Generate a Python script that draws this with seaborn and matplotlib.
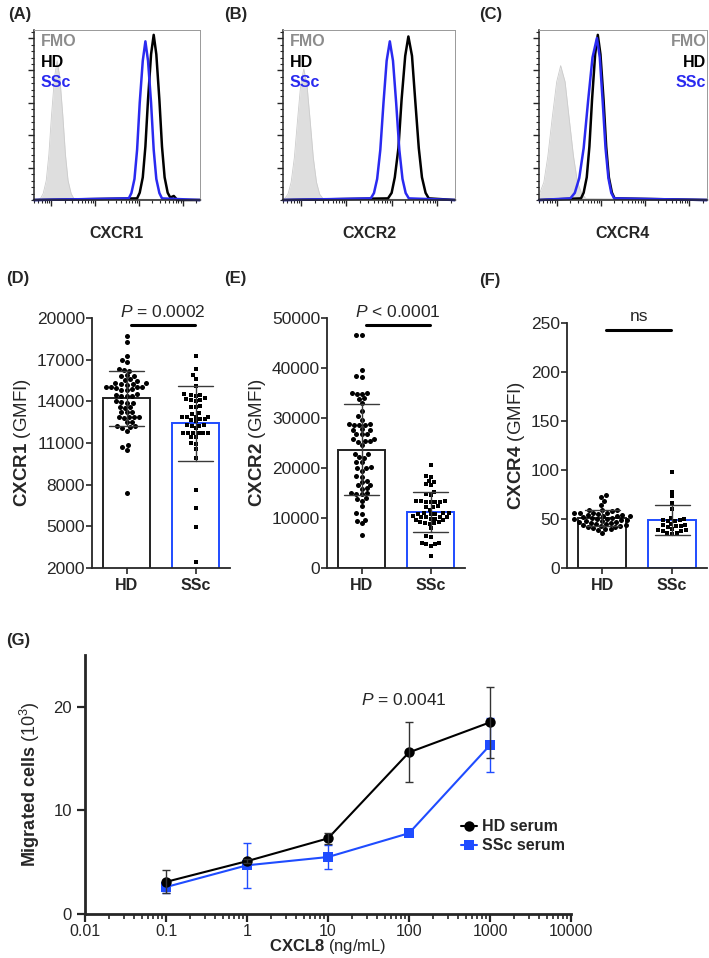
import numpy as np
import pandas as pd
import seaborn as sns
import matplotlib.pyplot as plt
from matplotlib.ticker import AutoMinorLocator, FixedLocator, NullFormatter


#### Data ####

# Flow cytometry histograms (x = log10 fluorescence, y = % of mode)
cxcr1_fmo_x = [0.6, 0.75, 0.81, 0.88, 0.94, 1.00, 1.07, 1.13, 1.19, 1.26, 1.32, 1.38, 1.45, 1.51, 4.4]
cxcr1_fmo_y = [0, 1, 4, 12, 28, 52, 76, 86, 76, 52, 28, 12, 4, 1, 0]
cxcr1_hd_x = [0.6, 2.96, 3.02, 3.09, 3.15, 3.21, 3.28, 3.34, 3.40, 3.47, 3.53, 3.59, 3.66, 3.72, 3.80, 3.88, 4.4]
cxcr1_hd_y = [0, 1, 4.5, 14, 33, 62, 90, 102, 90, 62, 33, 14, 4.5, 1.5, 2.5, 0, 0]
cxcr1_ssc_x = [0.6, 2.77, 2.83, 2.90, 2.96, 3.02, 3.09, 3.15, 3.21, 3.28, 3.34, 3.40, 3.47, 3.53, 4.4]
cxcr1_ssc_y = [0, 1, 4.3, 13, 31, 60, 86, 98, 86, 60, 31, 13, 4.3, 1, 0]

cxcr2_fmo_x = [0.6, 0.64, 0.71, 0.78, 0.85, 0.92, 0.99, 1.06, 1.13, 1.20, 1.27, 1.34, 1.41, 1.48, 4.4]
cxcr2_fmo_y = [0, 1, 3.6, 11, 26, 49, 71, 81, 71, 49, 26, 11, 3.6, 1, 0]
cxcr2_hd_x = [0.6, 2.92, 3.00, 3.07, 3.15, 3.22, 3.30, 3.37, 3.45, 3.52, 3.60, 3.67, 3.75, 3.82, 4.4]
cxcr2_hd_y = [0, 1, 4.4, 14, 32, 62, 89, 101, 89, 62, 32, 14, 4.4, 1, 0]
cxcr2_ssc_x = [0.6, 2.54, 2.61, 2.68, 2.75, 2.82, 2.89, 2.96, 3.03, 3.10, 3.17, 3.24, 3.31, 3.38, 4.4]
cxcr2_ssc_y = [0, 1, 4.3, 13, 31, 60, 86, 98, 86, 60, 31, 13, 4.3, 1, 0]

cxcr4_fmo_x = [0.6, 0.61, 0.71, 0.80, 0.90, 1.00, 1.09, 1.19, 1.28, 1.38, 1.47, 1.57, 1.66, 4.4]
cxcr4_fmo_y = [0, 3.7, 11, 27, 51, 73, 83, 73, 51, 27, 11, 3.7, 0.9, 0]
cxcr4_hd_x = [0.6, 1.55, 1.61, 1.68, 1.74, 1.80, 1.87, 1.93, 1.99, 2.06, 2.12, 2.18, 2.25, 2.31, 4.4]
cxcr4_hd_y = [0, 1, 4.5, 14, 33, 62, 90, 102, 90, 62, 33, 14, 4.5, 1, 0]
cxcr4_ssc_x = [0.6, 1.31, 1.41, 1.51, 1.61, 1.71, 1.81, 1.91, 1.975, 2.04, 2.105, 2.17, 2.235, 2.30, 4.4]
cxcr4_ssc_y = [0, 1, 4.4, 13.5, 32, 61, 88, 100, 88, 61, 32, 13.5, 4.4, 1, 0]

# GMFI per donor
groups = ['HD', 'SSc']
cxcr1_hd = [18700, 18300, 17300, 17000, 16800, 16300, 16250, 16200, 15900, 15850,
            15800, 15600, 15550, 15500, 15300, 15300, 15250, 15250, 15200, 15050,
            15050, 15000, 15000, 14950, 14900, 14800, 14800, 14500, 14450, 14400,
            14400, 14350, 14000, 13950, 13900, 13900, 13600, 13600, 13550, 13250,
            13200, 13200, 12900, 12900, 12850, 12850, 12800, 12500, 12500, 12200,
            12200, 12150, 12100, 11900, 10850, 10700, 10500, 7400]
cxcr1_ssc = [17300, 16300, 15900, 15600, 15100, 14500, 14450, 14450, 14400, 14250,
             14200, 14100, 14100, 14050, 13650, 13600, 13600, 13150, 13100, 12900,
             12900, 12850, 12850, 12700, 12700, 12650, 12550, 12300, 12300, 12250,
             12250, 12050, 11750, 11750, 11750, 11700, 11700, 11700, 11450, 11450,
             11000, 10950, 10550, 9950, 7650, 6350, 4950, 2450]
cxcr2_hd = [46600, 46500, 39500, 38400, 38200, 35000, 34900, 34800, 34700, 33900,
            33800, 32900, 31300, 30300, 29600, 28700, 28700, 28600, 28600, 28500,
            27700, 27600, 27500, 26800, 26800, 26700, 25800, 25700, 25300, 25300,
            25200, 24500, 22800, 22700, 22100, 22000, 21200, 21100, 20100, 20000,
            19900, 19400, 18400, 18300, 17400, 17300, 16700, 16600, 16000, 15900,
            15100, 15000, 14900, 14800, 14000, 13900, 13400, 12400, 11000, 10900,
            9700, 9500, 9000, 6700]
cxcr2_ssc = [20500, 18400, 18300, 17500, 17300, 16800, 16600, 15200, 14800, 14600,
             13500, 13400, 13400, 13300, 13300, 13300, 13200, 12400, 12300, 12300,
             11700, 11100, 11000, 11000, 10900, 10900, 10800, 10400, 10300, 10300,
             10200, 10200, 9900, 9800, 9700, 9600, 9300, 9200, 9100, 9000,
             8900, 8000, 6400, 6200, 5000, 5000, 4900, 4900, 4400, 2400]
cxcr4_hd = [74, 72, 68, 64, 59, 59, 59, 58, 56, 56, 56, 56, 55, 54, 54, 53, 53, 53,
            52, 51, 51, 50, 50, 50, 49, 49, 48, 48, 47, 47, 46, 46, 45, 45, 44, 44,
            43, 43, 42, 42, 41, 40, 40, 39, 36]
cxcr4_ssc = [98, 78, 73, 66, 60, 51, 50, 49, 49, 48, 48, 45, 44, 44, 43, 43, 42,
             40, 39, 39, 38, 38, 36, 36, 35]

# Migration assay (mean and error, x10^3 cells)
cxcl8_conc = [0.1, 1, 10, 100, 1000]
hd_serum_mean = [3.1, 5.1, 7.3, 15.6, 18.5]
hd_serum_err = [1.1, 0.2, 0.5, 2.9, 3.4]
ssc_serum_mean = [2.6, 4.7, 5.5, 7.8, 16.3]
ssc_serum_err = [0.6, 2.2, 1.2, 0.2, 2.6]


#### Style ####

sns.set_style('ticks')
plt.rcParams['font.family'] = ['Liberation Sans', 'DejaVu Sans']
plt.rcParams['mathtext.fontset'] = 'custom'
plt.rcParams['mathtext.rm'] = 'Liberation Sans'
plt.rcParams['mathtext.it'] = 'Liberation Sans:italic'
plt.rcParams['mathtext.bf'] = 'Liberation Sans:bold'

BLUE = '#1f4cff'
BLUE_HIST = '#2a2af0'

W, H = 709, 958
fig = plt.figure(figsize=(W / 100, H / 100), dpi=100)


def box(x0, y0, x1, y1):
    return [x0 / W, 1 - y1 / H, (x1 - x0) / W, (y1 - y0) / H]


#### Histograms (A-C) ####

def histogram(ax, fmo, hd, ssc, xlabel, right=False):
    ax.fill_between(fmo[0], fmo[1], color='#dedede', lw=0)
    ax.plot(fmo[0], fmo[1], color='#cccccc', lw=0.6)
    ax.plot(hd[0], hd[1], color='black', lw=1.8, clip_on=False)
    ax.plot(ssc[0], ssc[1], color=BLUE_HIST, lw=1.8, clip_on=False)
    ax.set_xlim(0.6, 4.4)
    ax.set_ylim(0, 105)
    ax.xaxis.set_major_locator(FixedLocator([1, 2, 3, 4]))
    minors = [d + np.log10(k) for d in range(5) for k in range(2, 10)]
    ax.xaxis.set_minor_locator(FixedLocator([m for m in minors if 0.6 <= m <= 4.4]))
    ax.set_yticks([20, 40, 60, 80, 100])
    ax.yaxis.set_minor_locator(AutoMinorLocator(5))
    ax.xaxis.set_major_formatter(NullFormatter())
    ax.yaxis.set_major_formatter(NullFormatter())
    ax.tick_params(which='major', length=4, width=1)
    ax.tick_params(which='minor', length=2, width=0.8)
    for side in ['top', 'right']:
        ax.spines[side].set_color('#999999')
        ax.spines[side].set_linewidth(0.7)
    for side in ['left', 'bottom']:
        ax.spines[side].set_linewidth(1.1)
    ax.set_xlabel(xlabel, fontsize=11.5, fontweight='bold', labelpad=11)
    x, ha = (0.995, 'right') if right else (0.04, 'left')
    for txt, col, y in [('FMO', '#8c8c8c', 0.93), ('HD', 'black', 0.81), ('SSc', BLUE_HIST, 0.69)]:
        ax.text(x, y, txt, color=col, fontsize=11.5, fontweight='bold',
                ha=ha, va='center', transform=ax.transAxes)


histogram(fig.add_axes(box(34, 30, 200, 200)),
          (cxcr1_fmo_x, cxcr1_fmo_y), (cxcr1_hd_x, cxcr1_hd_y), (cxcr1_ssc_x, cxcr1_ssc_y), 'CXCR1')
histogram(fig.add_axes(box(283, 30, 455, 200)),
          (cxcr2_fmo_x, cxcr2_fmo_y), (cxcr2_hd_x, cxcr2_hd_y), (cxcr2_ssc_x, cxcr2_ssc_y), 'CXCR2')
histogram(fig.add_axes(box(539, 30, 707, 200)),
          (cxcr4_fmo_x, cxcr4_fmo_y), (cxcr4_hd_x, cxcr4_hd_y), (cxcr4_ssc_x, cxcr4_ssc_y), 'CXCR4',
          right=True)


#### Bar + dot plots (D-F) ####

def bar_panel(ax, hd, ssc, ylabel, ylim, yticks, ptext):
    df = pd.DataFrame({'Group': ['HD'] * len(hd) + ['SSc'] * len(ssc), 'Value': hd + ssc})
    sns.barplot(data=df, x='Group', y='Value', order=groups, color='white', width=0.68,
                errorbar='sd', capsize=0.5,
                err_kws={'color': '#3a3a3a', 'linewidth': 1.0, 'zorder': 5}, ax=ax)
    for patch, ec in zip(ax.patches, ['#222222', BLUE]):
        patch.set_facecolor('white')
        patch.set_edgecolor(ec)
        patch.set_linewidth(1.4)
    sns.swarmplot(data=df[df.Group == 'HD'], x='Group', y='Value', order=groups,
                  color='black', marker='o', size=3.6, ax=ax, zorder=3)
    sns.swarmplot(data=df[df.Group == 'SSc'], x='Group', y='Value', order=groups,
                  color='black', marker='s', size=3.3, ax=ax, zorder=3)
    ax.set_xlim(-0.5, 1.5)
    ax.set_ylim(*ylim)
    ax.set_yticks(yticks)
    ax.set_xlabel('')
    ax.set_ylabel(ylabel, fontsize=13.5, labelpad=3)
    sns.despine(ax=ax)
    for side in ['left', 'bottom']:
        ax.spines[side].set_linewidth(1.3)
    ax.tick_params(axis='y', labelsize=12.5, length=4, width=1.2, pad=1)
    ax.tick_params(axis='x', labelsize=11.5, length=4, width=1.2, pad=3)
    for lab in ax.get_xticklabels():
        lab.set_fontweight('bold')
    # significance bar
    trans = ax.get_xaxis_transform()
    ax.plot([0.06, 0.99], [0.972, 0.972], color='black', lw=2.2, transform=trans, clip_on=False)
    ax.text(0.53, 1.025, ptext, ha='center', va='center', fontsize=12.5, transform=trans)


bar_panel(fig.add_axes(box(92, 318, 230, 568)), cxcr1_hd, cxcr1_ssc,
          r'$\mathbf{CXCR1}$ (GMFI)', (2000, 20000), range(2000, 20001, 3000), r'$P$ = 0.0002')
bar_panel(fig.add_axes(box(327, 318, 465, 568)), cxcr2_hd, cxcr2_ssc,
          r'$\mathbf{CXCR2}$ (GMFI)', (0, 50000), range(0, 50001, 10000), r'$P$ < 0.0001')
bar_panel(fig.add_axes(box(567, 323, 707, 568)), cxcr4_hd, cxcr4_ssc,
          r'$\mathbf{CXCR4}$ (GMFI)', (0, 250), range(0, 251, 50), 'ns')


#### Migration (G) ####

ax = fig.add_axes(box(85, 655, 571, 914))
sns.lineplot(x=cxcl8_conc, y=hd_serum_mean, color='black', marker='o', markersize=7.5,
             markeredgewidth=0, lw=1.5, label='HD serum', ax=ax, zorder=3)
sns.lineplot(x=cxcl8_conc, y=ssc_serum_mean, color=BLUE, marker='s', markersize=7,
             markeredgewidth=0, lw=1.5, label='SSc serum', ax=ax, zorder=2)
ax.errorbar(cxcl8_conc, hd_serum_mean, yerr=hd_serum_err, fmt='none', ecolor='#333333',
            elinewidth=1, capsize=3, zorder=3)
ax.errorbar(cxcl8_conc, ssc_serum_mean, yerr=ssc_serum_err, fmt='none', ecolor=BLUE,
            elinewidth=1, capsize=3, zorder=2)
ax.set_xscale('log')
ax.set_xlim(0.01, 10000)
ax.set_ylim(0, 25)
ax.set_yticks([0, 10, 20])
ax.set_xticks([0.01, 0.1, 1, 10, 100, 1000, 10000])
ax.set_xticklabels(['0.01', '0.1', '1', '10', '100', '1000', '10000'])
sns.despine(ax=ax)
for side in ['left', 'bottom']:
    ax.spines[side].set_linewidth(2)
ax.tick_params(which='major', length=6, width=1.6, labelsize=12)
ax.tick_params(which='minor', length=3.5, width=1.2)
ax.tick_params(axis='x', which='major', labelsize=11.5, pad=1)
ax.set_xlabel(r'$\mathbf{CXCL8}$ (ng/mL)', fontsize=12, labelpad=-1)
ax.set_ylabel(r'$\mathbf{Migrated\ cells}$ (10$^3$)', fontsize=13, labelpad=8)
ax.text(87, 20.7, r'$P$ = 0.0041', ha='center', va='center', fontsize=12.5)
ax.legend(loc='upper left', bbox_to_anchor=(0.76, 0.39), frameon=False,
          prop={'weight': 'bold', 'size': 11.5}, handlelength=1.0, handletextpad=0.3,
          labelspacing=0.25, borderaxespad=0)


#### Panel letters ####

for letter, x, y in [('(A)', 8, 14), ('(B)', 224, 14), ('(C)', 479, 14),
                     ('(D)', 6, 279), ('(E)', 224, 279), ('(F)', 479, 280), ('(G)', 6, 640)]:
    fig.text(x / W, 1 - y / H, letter, fontsize=12, fontweight='bold', va='center')

plt.savefig('out.png', dpi=100)
